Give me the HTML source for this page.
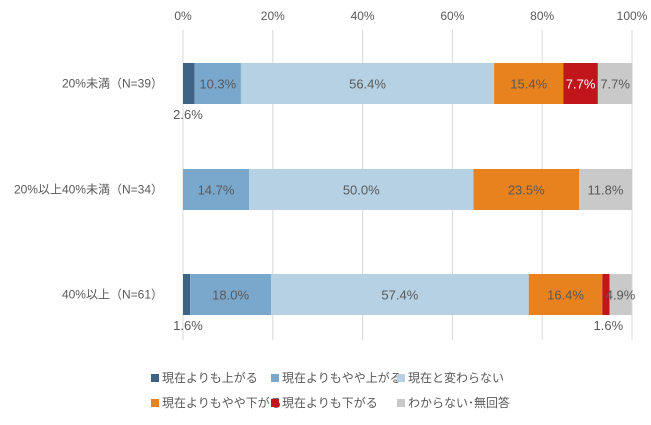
<!DOCTYPE html>
<html><head><meta charset="utf-8"><style>
body{margin:0;background:#fff;}
svg text{font-family:"Liberation Sans","Noto Sans CJK JP",sans-serif;font-size:12px;fill:#595959;}
</style></head><body>
<svg id="chart" width="651" height="420"></svg>
<script>
const categories=["20%未満（N=39）","20%以上40%未満（N=34）","40%以上（N=61）"];
const seriesNames=["現在よりも上がる","現在よりもやや上がる","現在と変わらない","現在よりもやや下がる","現在よりも下がる","わからない･無回答"];
const s1=[2.6,0,1.6];
const s2=[10.3,14.7,18.0];
const s3=[56.4,50.0,57.4];
const s4=[15.4,23.5,16.4];
const s5=[7.7,0,1.6];
const s6=[7.7,11.8,4.9];
const series=[s1,s2,s3,s4,s5,s6];
const ticks=[0,20,40,60,80,100];
const colors=["#3e6385","#7aa8cc","#b5d1e3","#e8821e","#c0161b","#c9c9c9"];
const NS="http://www.w3.org/2000/svg";
const svg=document.getElementById('chart');
const x0=183,x1=632;
const xs=v=>x0+(x1-x0)*v/100;
const rowY=[63,169,274],bh=41;
function mk(t,a){const e=document.createElementNS(NS,t);for(const k in a)e.setAttribute(k,a[k]);svg.appendChild(e);return e;}
ticks.forEach(t=>{
 const l=mk('line',{x1:xs(t),x2:xs(t),y1:30,y2:340,stroke:'#d9d9d9'});
 
 
 const tx=mk('text',{x:xs(t),y:20,'text-anchor':'middle'});tx.textContent=t+'%';
 
 
});
categories.forEach((c,i)=>{
 const y=rowY[i];
 const lab=mk('text',{x:163,y:y+bh/2+4,'text-anchor':'end'});lab.textContent=c;
 
 
 let acc=0;
 series.forEach((s,j)=>{
  const v=s[i];if(!v){return;}
  const r=mk('rect',{x:xs(acc),y:y,width:xs(acc+v)-xs(acc),height:bh,fill:colors[j]});
  
  
  const cx=(xs(acc)+xs(acc+v))/2;
  let tx;
  if(v<3){
   tx=mk('text',{x:xs(acc)+(j===0?5:6),y:y+bh+15,'text-anchor':'middle'});
  }else{
   tx=mk('text',{x:cx,y:y+bh/2+5,'text-anchor':'middle'});
   if(j===4)tx.style.fill='#fff';
  }
  tx.style.fontSize='13px';
  tx.textContent=v.toFixed(1)+'%';
  
  
  acc+=v;
 });
});
const lpos=[[151,378],[271,378],[397,378],[151,403],[271,403],[397,403]];
seriesNames.forEach((n,j)=>{
 const [lx,ly]=lpos[j];
 const r=mk('rect',{x:lx,y:ly-4,width:8,height:8,fill:colors[j]});
 
 
 const t=mk('text',{x:lx+11,y:ly+4});t.textContent=n;
 
 
});
</script>
</body></html>
